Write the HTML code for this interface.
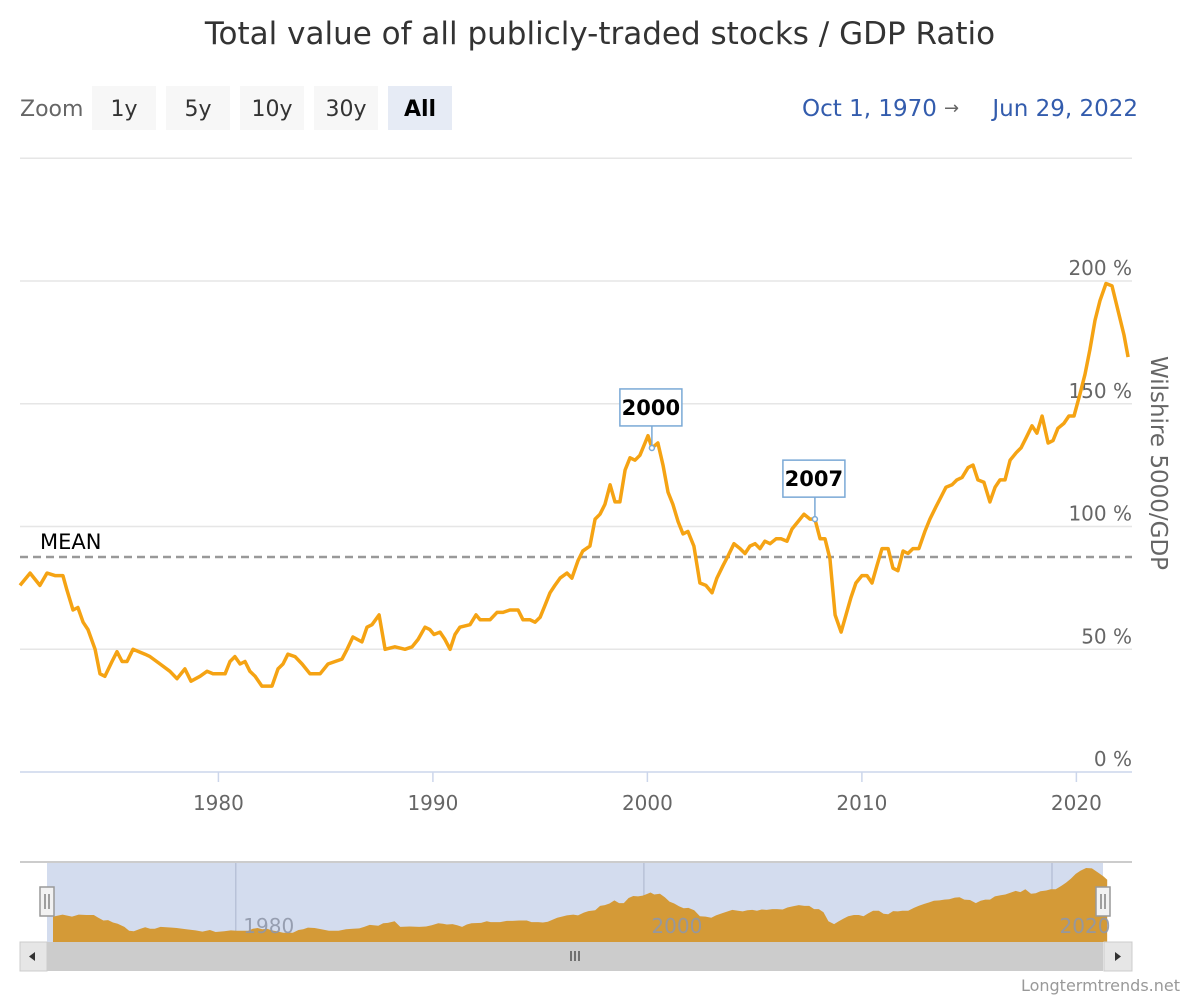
<!DOCTYPE html>
<html><head><meta charset="utf-8"><style>
html,body{margin:0;padding:0;background:#fff;}
body{width:1200px;height:1000px;overflow:hidden;font-family:"Liberation Sans","DejaVu Sans",sans-serif;}
svg text{font-family:"DejaVu Sans","Liberation Sans",sans-serif;}
</style></head><body>
<svg id="chart" width="1200" height="1000" xmlns="http://www.w3.org/2000/svg">
<text x="600" y="44" text-anchor="middle" font-size="31" fill="#333">Total value of all publicly-traded stocks / GDP Ratio</text>
<text x="20" y="116" font-size="22" fill="#666">Zoom</text>
<g><rect x="92" y="86" width="64" height="44" fill="#f7f7f7"/><text x="124" y="116" text-anchor="middle" font-size="22" fill="#333">1y</text></g>
<g><rect x="166" y="86" width="64" height="44" fill="#f7f7f7"/><text x="198" y="116" text-anchor="middle" font-size="22" fill="#333">5y</text></g>
<g><rect x="240" y="86" width="64" height="44" fill="#f7f7f7"/><text x="272" y="116" text-anchor="middle" font-size="22" fill="#333">10y</text></g>
<g><rect x="314" y="86" width="64" height="44" fill="#f7f7f7"/><text x="346" y="116" text-anchor="middle" font-size="22" fill="#333">30y</text></g>
<g><rect x="388" y="86" width="64" height="44" fill="#e6ebf5"/><text x="420" y="116" text-anchor="middle" font-size="22" font-weight="bold" fill="#000">All</text></g>
<text x="802" y="116" font-size="23" fill="#335cad">Oct 1, 1970</text>
<text x="944" y="114" font-size="18" fill="#666">→</text>
<text x="1138" y="116" text-anchor="end" font-size="23" fill="#335cad">Jun 29, 2022</text>
<g id="grid"></g>
<g id="xaxis"></g>
<g id="yaxis"></g>
<text transform="translate(1151,463) rotate(90)" text-anchor="middle" font-size="23" fill="#666">Wilshire 5000/GDP</text>
<g id="meanline"></g>
<g id="series"></g>
<g id="annotations"></g>
<g id="navigator"></g>
<text x="1180" y="991" text-anchor="end" font-size="16" fill="#999">Longtermtrends.net</text>
</svg>
<script>
const years=[1970.75,1971.22,1971.68,1972.01,1972.38,1972.75,1972.94,1973.22,1973.45,1973.69,1973.92,1974.25,1974.48,1974.71,1975.04,1975.27,1975.51,1975.74,1976.02,1976.58,1976.81,1977.28,1977.74,1978.07,1978.44,1978.72,1979.14,1979.47,1979.75,1980.09,1980.31,1980.54,1980.77,1981.01,1981.24,1981.47,1981.71,1982.03,1982.50,1982.78,1983.01,1983.24,1983.57,1983.90,1984.27,1984.74,1985.11,1985.44,1985.76,1986.00,1986.27,1986.69,1986.93,1987.16,1987.49,1987.77,1988.23,1988.70,1989.03,1989.31,1989.63,1989.86,1990.05,1990.33,1990.56,1990.80,1991.03,1991.26,1991.73,1992.01,1992.20,1992.66,1992.99,1993.27,1993.59,1993.97,1994.20,1994.53,1994.76,1995.00,1995.23,1995.46,1995.69,1995.93,1996.25,1996.48,1996.76,1996.99,1997.32,1997.56,1997.79,1998.02,1998.26,1998.49,1998.72,1998.96,1999.19,1999.42,1999.65,1999.89,2000.03,2000.21,2000.35,2000.49,2000.73,2000.96,2001.19,2001.43,2001.66,2001.89,2002.17,2002.45,2002.73,2003.01,2003.24,2003.52,2003.76,2004.04,2004.32,2004.55,2004.78,2005.02,2005.25,2005.48,2005.72,2006.00,2006.23,2006.51,2006.74,2007.02,2007.30,2007.58,2007.81,2008.05,2008.28,2008.51,2008.75,2009.03,2009.26,2009.49,2009.72,2010.00,2010.24,2010.47,2010.70,2010.94,2011.22,2011.45,2011.68,2011.92,2012.15,2012.38,2012.66,2012.94,2013.17,2013.45,2013.69,2013.92,2014.20,2014.43,2014.67,2014.95,2015.18,2015.41,2015.69,2015.97,2016.21,2016.44,2016.67,2016.91,2017.19,2017.42,2017.65,2017.93,2018.16,2018.40,2018.68,2018.91,2019.14,2019.42,2019.65,2019.89,2020.17,2020.40,2020.63,2020.87,2021.10,2021.38,2021.66,2021.94,2022.22,2022.41];
const ratios=[76,81,76,81,80,80,74,66,67,61,58,50,40,39,45,49,45,45,50,48,47,44,41,38,42,37,39,41,40,40,40,45,47,44,45,41,39,35,35,42,44,48,47,44,40,40,44,45,46,50,55,53,59,60,64,50,51,50,51,54,59,58,56,57,54,50,56,59,60,64,62,62,65,65,66,66,62,62,61,63,68,73,76,79,81,79,86,90,92,103,105,109,117,110,110,123,128,127,129,134,137,132,133,134,125,114,109,102,97,98,92,77,76,73,79,84,88,93,91,89,92,93,91,94,93,95,95,94,99,102,105,103,103,95,95,87,64,57,64,71,77,80,80,77,84,91,91,83,82,90,89,91,91,98,103,108,112,116,117,119,120,124,125,119,118,110,116,119,119,127,130,132,136,141,138,145,134,135,140,142,145,145,154,162,172,184,192,199,198,188,178,169];
const yTicks=[0,50,100,150,200,250];
const xTickYears=[1980,1990,2000,2010,2020];
const navTickYears=[1980,2000,2020];
const meanValue=87.6;
const annotationLabels=["2000","2007"];
const annotationYears=[2000.21,2007.81];
const annotationValues=[132,103];

const NS="http://www.w3.org/2000/svg";
function mk(tag,attrs,parent){const e=document.createElementNS(NS,tag);for(const k in attrs)e.setAttribute(k,attrs[k]);parent.appendChild(e);return e;}
const X0=1970.75,X1=2022.5,PX0=20,PX1=1130;
const xs=v=>PX0+(v-X0)/(X1-X0)*(PX1-PX0);
const ys=v=>772-v*2.455;
const nx=v=>47+(v-X0)/(X1-X0)*(1103-47);
const ny=v=>946.6-v*0.395;

const grid=document.getElementById('grid'),yax=document.getElementById('yaxis'),xax=document.getElementById('xaxis');
yTicks.forEach(t=>{
  const l=mk('line',{x1:20,x2:1132,y1:ys(t),y2:ys(t),stroke:t===0?'#ccd6eb':'#e6e6e6','stroke-width':1.5},grid);
  
  
  if(t<=200){const tx=mk('text',{x:1132,y:ys(t)-6,'text-anchor':'end','font-size':20,fill:'#666'},yax);tx.textContent=t+' %';
  
  }
});
xTickYears.forEach(t=>{
  const l=mk('line',{x1:xs(t),x2:xs(t),y1:772,y2:782,stroke:'#ccd6eb','stroke-width':1.5},xax);
  
  
  const tx=mk('text',{x:xs(t),y:810,'text-anchor':'middle','font-size':20,fill:'#666'},xax);tx.textContent=t;
  
  
});
const mg=document.getElementById('meanline');
const ml=mk('line',{x1:20,x2:1132,y1:ys(meanValue),y2:ys(meanValue),stroke:'#999','stroke-width':2.5,'stroke-dasharray':'8,5'},mg);


const mt=mk('text',{x:40,y:ys(meanValue)-8,'font-size':21,fill:'#000'},mg);mt.textContent='MEAN';



const sg=document.getElementById('series');
const d=years.map((y,i)=>(i?'L':'M')+xs(y).toFixed(1)+','+ys(ratios[i]).toFixed(1)).join(' ');
const p=mk('path',{d:d,fill:'none',stroke:'#f5a313','stroke-width':3.5,'stroke-linejoin':'round'},sg);



const ag=document.getElementById('annotations');
annotationLabels.forEach((lab,i)=>{
  const px=xs(annotationYears[i]),py=ys(annotationValues[i]);
  const g=mk('g',{},ag);
  
  
  mk('line',{x1:px,x2:px,y1:py,y2:py-22,stroke:'#7aa9d6','stroke-width':1.5},g);
  mk('circle',{cx:px,cy:py,r:2.5,fill:'#fff',stroke:'#7aa9d6','stroke-width':1.5},g);
  mk('rect',{x:px-32,y:py-59,width:62,height:37,fill:'#fff',stroke:'#7aa9d6','stroke-width':1.5},g);
  const t=mk('text',{x:px-1,y:py-33,'text-anchor':'middle','font-size':21,'font-weight':'bold',fill:'#000'},g);t.textContent=lab;
});

const nv=document.getElementById('navigator');
mk('line',{x1:20,x2:1132,y1:862,y2:862,stroke:'#ccc','stroke-width':2},nv);
mk('rect',{x:47,y:863,width:1056,height:79,fill:'#d3dcee'},nv);
navTickYears.forEach(t=>{
  const l=mk('line',{x1:nx(t),x2:nx(t),y1:863,y2:942,stroke:'#b8c2d8','stroke-width':1.5},nv);
  
  
});
const na='M'+(nx(years[0])+6)+',942 '+years.map((y,i)=>'L'+(nx(y)+6).toFixed(1)+','+Math.max(864,ny(ratios[i])).toFixed(1)).join(' ')+' L'+(nx(years[years.length-1])+6)+',942 Z';
const nfill=mk('path',{d:na,fill:'#d49a37'},nv);


navTickYears.forEach(t=>{
  const tx=mk('text',{x:nx(t)+33,y:933,'text-anchor':'middle','font-size':20,fill:'#8f97a8','fill-opacity':0.9},nv);tx.textContent=t;
  
  
});
[47,1103].forEach((hx,i)=>{
  const g=mk('g',{},nv);
  
  
  mk('rect',{x:hx-7,y:887,width:14,height:29,fill:'#f2f2f2',stroke:'#999','stroke-width':1.5},g);
  mk('line',{x1:hx-2,x2:hx-2,y1:894,y2:909,stroke:'#666','stroke-width':1.2},g);
  mk('line',{x1:hx+2,x2:hx+2,y1:894,y2:909,stroke:'#666','stroke-width':1.2},g);
});
const sb=mk('g',{},nv);


mk('rect',{x:20,y:942,width:1112,height:29,fill:'#f2f2f2'},sb);
mk('rect',{x:47,y:942,width:1056,height:29,fill:'#cccccc'},sb);
mk('rect',{x:20,y:942,width:27,height:29,fill:'#e6e6e6',stroke:'#ccc'},sb);
mk('rect',{x:1104,y:942,width:28,height:29,fill:'#e6e6e6',stroke:'#ccc'},sb);
mk('path',{d:'M29,956.5 L35,952 L35,961 Z',fill:'#333'},sb);
mk('path',{d:'M1121,956.5 L1115,952 L1115,961 Z',fill:'#333'},sb);
[-4,0,4].forEach(o=>mk('line',{x1:575+o,x2:575+o,y1:951,y2:961,stroke:'#333','stroke-width':1.2},sb));
</script>
</body></html>
